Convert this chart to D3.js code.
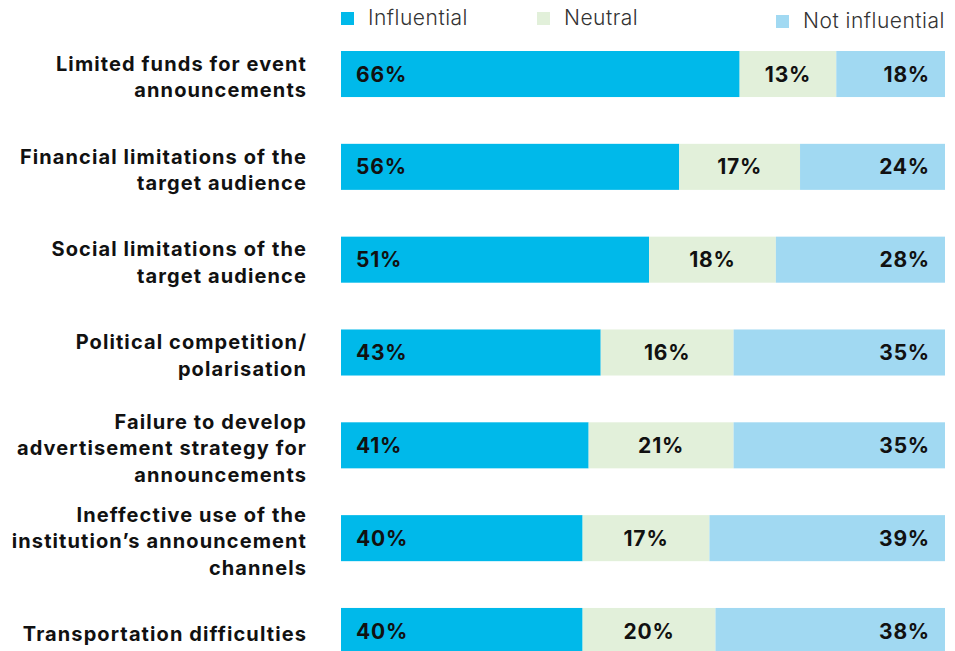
<!DOCTYPE html>
<html>
<head>
<meta charset="utf-8">
<script src="https://cdn.jsdelivr.net/npm/d3@7"></script>
<style>
  body { margin: 0; background: #fff; }
  svg { display: block; font-family: "Inter", "Noto Sans", sans-serif; }
</style>
</head>
<body>
<div id="chart"></div>
<script>
// data
let categories = [
  ["Limited funds for event", "announcements"],
  ["Financial limitations of the", "target audience"],
  ["Social limitations of the", "target audience"],
  ["Political competition/", "polarisation"],
  ["Failure to develop", "advertisement strategy for", "announcements"],
  ["Ineffective use of the", "institution\u2019s announcement", "channels"],
  ["Transportation difficulties"]
];
let influential    = [66, 56, 51, 43, 41, 40, 40];
let neutral        = [13, 17, 18, 16, 21, 17, 20];
let notInfluential = [18, 24, 28, 35, 35, 39, 38];

let seriesNames = ["Influential", "Neutral", "Not influential"];
let colors = ["#00b9ea", "#e2f0da", "#a1d9f2"];

let width = 955;
let height = 651;

let svg = d3.select("#chart").append("svg")
  .attr("width", width)
  .attr("height", height);

let x = d3.scaleLinear().domain([0, 100]).range([341, 945]);
let y = d3.scaleBand()
  .domain(d3.range(categories.length))
  .range([51, 654])
  .paddingInner(0.504)
  .paddingOuter(0);

let rows = d3.range(categories.length).map(i => ({
  i: i,
  lines: categories[i],
  inf: influential[i],
  neu: neutral[i],
  not: notInfluential[i]
}));

// influential grows from the left, not influential sits on the right,
// neutral fills what's between
let g = svg.selectAll("g.row")
  .data(rows)
  .enter()
  .append("g")
  .attr("class", "row");

g.append("rect")
  .attr("x", x(0))
  .attr("y", d => y(d.i))
  .attr("width", d => x(d.inf) - x(0))
  .attr("height", y.bandwidth())
  .attr("fill", colors[0]);

g.append("rect")
  .attr("x", d => x(d.inf))
  .attr("y", d => y(d.i))
  .attr("width", d => x(100 - d.not) - x(d.inf))
  .attr("height", y.bandwidth())
  .attr("fill", colors[1]);

g.append("rect")
  .attr("x", d => x(100 - d.not))
  .attr("y", d => y(d.i))
  .attr("width", d => x(100) - x(100 - d.not))
  .attr("height", y.bandwidth())
  .attr("fill", colors[2]);

let valueStyle = sel => sel
  .attr("font-size", 21)
  .attr("font-weight", 700)
  .attr("letter-spacing", 0.8)
  .attr("fill", "#111")
  .attr("dy", "0.36em");

g.append("text")
  .call(valueStyle)
  .attr("x", x(0) + 15)
  .attr("y", d => y(d.i) + y.bandwidth() / 2)
  .text(d => d.inf + "%");

g.append("text")
  .call(valueStyle)
  .attr("text-anchor", "middle")
  .attr("x", d => (x(d.inf) + x(100 - d.not)) / 2)
  .attr("y", d => y(d.i) + y.bandwidth() / 2)
  .text(d => d.neu + "%");

g.append("text")
  .call(valueStyle)
  .attr("text-anchor", "end")
  .attr("x", x(100) - 15)
  .attr("y", d => y(d.i) + y.bandwidth() / 2)
  .text(d => d.not + "%");

// category labels, right aligned
let lineH = 26.5;
g.append("text")
  .attr("text-anchor", "end")
  .attr("font-size", 20)
  .attr("font-weight", 700)
  .attr("letter-spacing", 1.1)
  .attr("fill", "#111")
  .each(function(d) {
    let t = d3.select(this);
    let cy = y(d.i) + y.bandwidth() / 2 + 3;
    let top = cy - (d.lines.length - 1) * lineH / 2;
    d.lines.forEach((l, k) => {
      t.append("tspan")
        .attr("x", 307)
        .attr("y", top + k * lineH)
        .attr("dy", "0.35em")
        .text(l);
    });
  });

// legend
let legendX = [341, 537, 776];
let legendY = [18, 18, 21];
let leg = svg.selectAll("g.legend")
  .data(seriesNames)
  .enter()
  .append("g")
  .attr("class", "legend")
  .attr("transform", (d, i) => `translate(${legendX[i]},${legendY[i]})`);

leg.append("rect")
  .attr("x", 0)
  .attr("y", -6)
  .attr("width", 13)
  .attr("height", 13)
  .attr("fill", (d, i) => colors[i]);

leg.append("text")
  .attr("x", 27)
  .attr("y", 0)
  .attr("dy", "0.35em")
  .attr("font-size", 21)
  .attr("font-weight", 300)
  .attr("letter-spacing", 0.5)
  .attr("fill", "#333")
  .text(d => d);
</script>
</body>
</html>
